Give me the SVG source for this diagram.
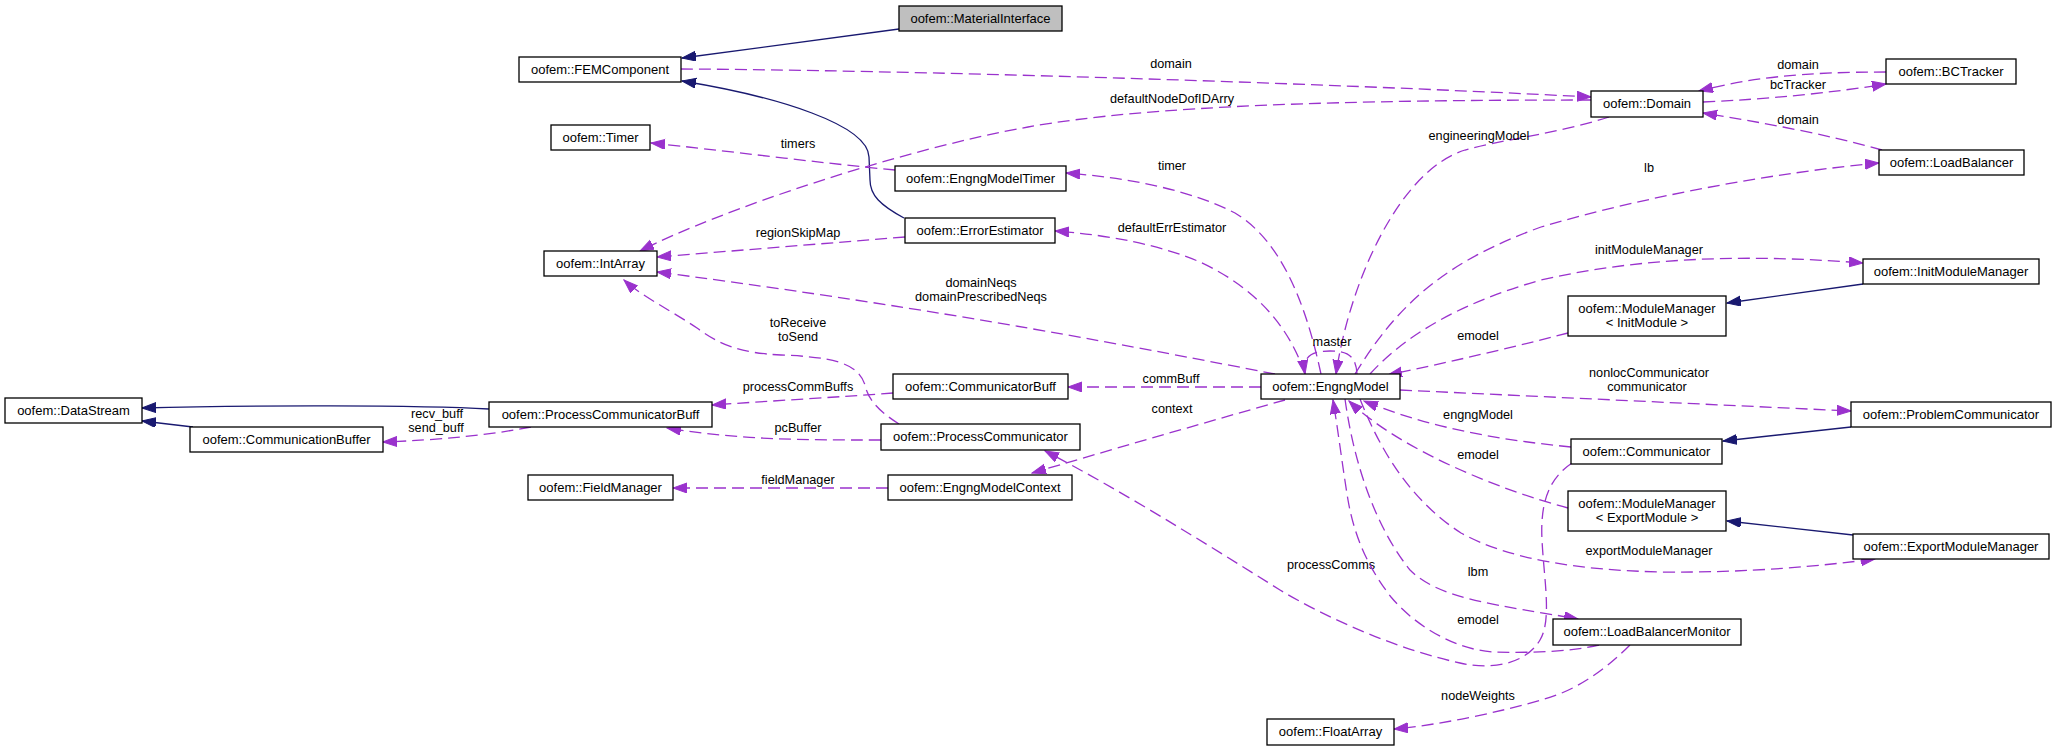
<svg xmlns="http://www.w3.org/2000/svg" width="2056" height="751" viewBox="0 0 2056 751">
<style>
.node rect{fill:#fff;stroke:#000;stroke-width:1.3}
.node rect.hl{fill:#bfbfbf}
.node text{font-family:"Liberation Sans",Arial,Helvetica,sans-serif;font-size:13px;text-anchor:middle;fill:#000}
.inh{fill:none;stroke:#191970;stroke-width:1.3;marker-end:url(#ab)}
.use{fill:none;stroke:#9a32cd;stroke-width:1.3;stroke-dasharray:12,6;marker-end:url(#ap)}
.lbl{font-family:"Liberation Sans",Arial,Helvetica,sans-serif;font-size:12.7px;text-anchor:middle;fill:#000}
</style>
<defs>
<marker id="ab" markerUnits="userSpaceOnUse" markerWidth="15" markerHeight="11" refX="14" refY="5" orient="auto"><path d="M0,0 L14,5 L0,10 z" fill="#191970" stroke="#191970" stroke-width="1"/></marker>
<marker id="ap" markerUnits="userSpaceOnUse" markerWidth="15" markerHeight="11" refX="14" refY="5" orient="auto"><path d="M0,0 L14,5 L0,10 z" fill="#9a32cd" stroke="#9a32cd" stroke-width="1"/></marker>
</defs>
<rect width="2056" height="751" fill="#fff"/>
<g id="edges">
<path class="inh" d="M899,29 L682,58"/>
<path class="inh" d="M904,218 C880,205 870,195 870,180 L869,157 C868,125 780,97 682,81"/>
<path class="inh" d="M193,427 L142,421"/>
<path class="inh" d="M489,409 C420,405 250,405 142,408"/>
<path class="inh" d="M1863,284 L1727,303"/>
<path class="inh" d="M1851,427 L1723,441"/>
<path class="inh" d="M1853,535 L1727,521"/>

<path class="use" d="M681,69 C900,70 1300,82 1591,97"/>
<text class="lbl" x="1171" y="68">domain</text>
<path class="use" d="M1591,100 C1350,100 1150,105 1028,127 C900,150 720,210 640,251"/>
<text class="lbl" x="1172" y="103">defaultNodeDofIDArry</text>
<path class="use" d="M1886,72 C1800,72 1750,78 1699,91"/>
<text class="lbl" x="1798" y="69">domain</text>
<path class="use" d="M1703,102 C1770,99 1830,93 1886,84"/>
<text class="lbl" x="1798" y="89">bcTracker</text>
<path class="use" d="M1882,150 C1830,135 1760,122 1703,113"/>
<text class="lbl" x="1798" y="124">domain</text>
<path class="use" d="M1609,117 C1560,133 1500,140 1465,150 C1400,170 1350,280 1336,374"/>
<text class="lbl" x="1479" y="140">engineeringModel</text>
<path class="use" d="M1355,374 C1400,300 1450,260 1541,227 C1650,195 1780,172 1879,163"/>
<text class="lbl" x="1649" y="172">lb</text>
<path class="use" d="M1370,374 C1410,330 1470,300 1541,280 C1650,255 1760,255 1863,263"/>
<text class="lbl" x="1649" y="254">initModuleManager</text>
<path class="use" d="M1568,333 C1510,348 1450,362 1388,375"/>
<text class="lbl" x="1478" y="340">emodel</text>
<path class="use" d="M1321,374 C1305,300 1280,240 1235,213 C1190,190 1130,178 1066,173"/>
<text class="lbl" x="1172" y="170">timer</text>
<path class="use" d="M1305,374 C1290,330 1260,290 1200,262 C1160,245 1110,235 1055,231"/>
<text class="lbl" x="1172" y="232">defaultErrEstimator</text>
<path class="use" d="M1357,374 C1356,356 1348,351 1330,351 C1312,351 1302,356 1305,374"/>
<text class="lbl" x="1332" y="346">master</text>
<path class="use" d="M1275,374 C1150,350 950,310 657,272"/>
<text class="lbl" x="981" y="287">domainNeqs</text>
<text class="lbl" x="981" y="301">domainPrescribedNeqs</text>
<path class="use" d="M905,237 L657,257"/>
<text class="lbl" x="798" y="237">regionSkipMap</text>
<path class="use" d="M899,424 C880,412 868,400 865,385 C858,362 830,357 781,355 C740,353 720,345 697,328 C670,310 640,295 624,280"/>
<text class="lbl" x="798" y="327">toReceive</text>
<text class="lbl" x="798" y="341">toSend</text>
<path class="use" d="M895,170 C820,163 720,150 651,143"/>
<text class="lbl" x="798" y="148">timers</text>
<path class="use" d="M893,393 C840,397 770,401 712,405"/>
<text class="lbl" x="798" y="391">processCommBuffs</text>
<path class="use" d="M881,440 C800,440 740,440 667,428"/>
<text class="lbl" x="798" y="432">pcBuffer</text>
<path class="use" d="M531,427 C490,435 440,440 383,442"/>
<text class="lbl" x="437" y="418">recv_buff</text>
<text class="lbl" x="436" y="432">send_buff</text>
<path class="use" d="M888,488 L673,488"/>
<text class="lbl" x="798" y="484">fieldManager</text>
<path class="use" d="M1261,387 L1068,387"/>
<text class="lbl" x="1171" y="383">commBuff</text>
<path class="use" d="M1285,400 C1200,424 1100,453 1032,473"/>
<text class="lbl" x="1172" y="413">context</text>
<path class="use" d="M1572,463 C1550,478 1540,500 1542,540 C1544,580 1552,620 1540,640 C1525,665 1490,670 1460,663 C1400,650 1330,620 1280,590 C1200,540 1120,490 1045,451"/>
<text class="lbl" x="1331" y="569">processComms</text>
<path class="use" d="M1571,447 C1500,440 1430,428 1364,401"/>
<text class="lbl" x="1478" y="419">engngModel</text>
<path class="use" d="M1568,508 C1500,490 1400,450 1349,401"/>
<text class="lbl" x="1478" y="459">emodel</text>
<path class="use" d="M1599,645 C1570,652 1530,653 1495,652 C1450,650 1410,620 1391,597 C1370,570 1355,540 1348,500 C1343,470 1338,430 1333,400"/>
<text class="lbl" x="1478" y="624">emodel</text>
<path class="use" d="M1345,399 C1352,450 1370,520 1410,570 C1440,600 1500,605 1578,619"/>
<text class="lbl" x="1478" y="576">lbm</text>
<path class="use" d="M1360,399 C1380,450 1410,500 1461,533 C1510,560 1580,570 1660,572 C1750,573 1820,566 1875,559"/>
<text class="lbl" x="1649" y="555">exportModuleManager</text>
<path class="use" d="M1400,390 L1851,411"/>
<text class="lbl" x="1649" y="377">nonlocCommunicator</text>
<text class="lbl" x="1647" y="391">communicator</text>
<path class="use" d="M1630,645 C1610,665 1580,690 1541,700 C1500,712 1440,725 1394,729"/>
<text class="lbl" x="1478" y="700">nodeWeights</text>
</g>
<g id="node-MaterialInterface" class="node"><rect class="hl" x="899" y="6" width="163" height="25"/><text x="980.5" y="23">oofem::MaterialInterface</text></g>
<g id="node-FEMComponent" class="node"><rect x="519" y="57" width="162" height="25"/><text x="600" y="74">oofem::FEMComponent</text></g>
<g id="node-Timer" class="node"><rect x="551" y="125" width="99" height="25"/><text x="600.5" y="142">oofem::Timer</text></g>
<g id="node-EngngModelTimer" class="node"><rect x="895" y="166" width="171" height="25"/><text x="980.5" y="183">oofem::EngngModelTimer</text></g>
<g id="node-ErrorEstimator" class="node"><rect x="905" y="218" width="150" height="25"/><text x="980" y="235">oofem::ErrorEstimator</text></g>
<g id="node-IntArray" class="node"><rect x="544" y="251" width="113" height="25"/><text x="600.5" y="268">oofem::IntArray</text></g>
<g id="node-DataStream" class="node"><rect x="5" y="398" width="137" height="25"/><text x="73.5" y="415">oofem::DataStream</text></g>
<g id="node-CommunicationBuffer" class="node"><rect x="190" y="427" width="193" height="25"/><text x="286.5" y="444">oofem::CommunicationBuffer</text></g>
<g id="node-ProcessCommunicatorBuff" class="node"><rect x="489" y="402" width="223" height="25"/><text x="600.5" y="419">oofem::ProcessCommunicatorBuff</text></g>
<g id="node-CommunicatorBuff" class="node"><rect x="893" y="374" width="175" height="25"/><text x="980.5" y="391">oofem::CommunicatorBuff</text></g>
<g id="node-ProcessCommunicator" class="node"><rect x="881" y="424" width="199" height="26"/><text x="980.5" y="441">oofem::ProcessCommunicator</text></g>
<g id="node-FieldManager" class="node"><rect x="528" y="475" width="145" height="25"/><text x="600.5" y="492">oofem::FieldManager</text></g>
<g id="node-EngngModelContext" class="node"><rect x="888" y="475" width="184" height="25"/><text x="980" y="492">oofem::EngngModelContext</text></g>
<g id="node-EngngModel" class="node"><rect x="1261" y="374" width="139" height="25"/><text x="1330.5" y="391">oofem::EngngModel</text></g>
<g id="node-Domain" class="node"><rect x="1591" y="91" width="112" height="26"/><text x="1647" y="108">oofem::Domain</text></g>
<g id="node-BCTracker" class="node"><rect x="1886" y="59" width="130" height="25"/><text x="1951" y="76">oofem::BCTracker</text></g>
<g id="node-LoadBalancer" class="node"><rect x="1879" y="150" width="145" height="25"/><text x="1951.5" y="167">oofem::LoadBalancer</text></g>
<g id="node-InitModuleManager" class="node"><rect x="1863" y="259" width="176" height="25"/><text x="1951" y="276">oofem::InitModuleManager</text></g>
<g id="node-ModuleManagerInit" class="node"><rect x="1568" y="296" width="158" height="40"/><text x="1647" y="313">oofem::ModuleManager</text><text x="1647" y="327">&lt; InitModule &gt;</text></g>
<g id="node-ProblemCommunicator" class="node"><rect x="1851" y="402" width="200" height="25"/><text x="1951" y="419">oofem::ProblemCommunicator</text></g>
<g id="node-Communicator" class="node"><rect x="1571" y="439" width="151" height="25"/><text x="1646.5" y="456">oofem::Communicator</text></g>
<g id="node-ModuleManagerExport" class="node"><rect x="1568" y="491" width="158" height="40"/><text x="1647" y="508">oofem::ModuleManager</text><text x="1647" y="522">&lt; ExportModule &gt;</text></g>
<g id="node-ExportModuleManager" class="node"><rect x="1853" y="534" width="196" height="25"/><text x="1951" y="551">oofem::ExportModuleManager</text></g>
<g id="node-LoadBalancerMonitor" class="node"><rect x="1553" y="619" width="188" height="26"/><text x="1647" y="636">oofem::LoadBalancerMonitor</text></g>
<g id="node-FloatArray" class="node"><rect x="1267" y="719" width="127" height="26"/><text x="1330.5" y="736">oofem::FloatArray</text></g>
</svg>
